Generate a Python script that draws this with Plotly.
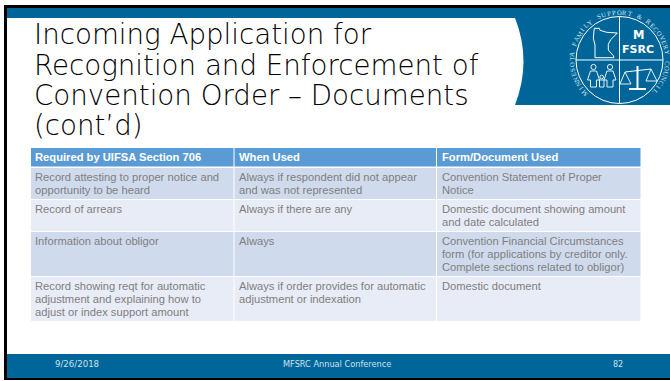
import math
import plotly.graph_objects as go

W, H = 670, 381
title_lines = ["Incoming Application for", "Recognition and Enforcement of",
               "Convention Order – Documents", "(cont’d)"]
headers = ["Required by UIFSA Section 706", "When Used", "Form/Document Used"]
col_required = ["Record attesting to proper notice and<br>opportunity to be heard",
                "Record of arrears",
                "Information about obligor",
                "Record showing reqt for automatic<br>adjustment and explaining how to<br>adjust or index support amount"]
col_when = ["Always if respondent did not appear<br>and was not represented",
            "Always if there are any",
            "Always",
            "Always if order provides for automatic<br>adjustment or indexation"]
col_form = ["Convention Statement of Proper<br>Notice",
            "Domestic document showing amount<br>and date calculated",
            "Convention Financial Circumstances<br>form (for applications by creditor only.<br>Complete sections related to obligor)",
            "Domestic document"]
footer_date = "9/26/2018"
footer_name = "MFSRC Annual Conference"
footer_page = "82"
seal_text = "MINNESOTA FAMILY SUPPORT & RECOVERY COUNCIL"

BLUE = "#006699"
X = lambda p: p / W
Y = lambda p: 1 - p / H
shapes, ann = [], []


def rect(x0, y0, x1, y1, c):
    shapes.append(dict(type="rect", xref="paper", yref="paper", x0=X(x0), x1=X(x1), y0=Y(y1), y1=Y(y0),
                       fillcolor=c, line_width=0, layer="below"))


def path(pts, close=False, fill=None, lw=1.0, color="white"):
    d = "M" + " L".join(f"{X(a):.5f},{Y(b):.5f}" for a, b in pts) + (" Z" if close else "")
    shapes.append(dict(type="path", xref="paper", yref="paper", path=d, fillcolor=fill,
                       line=dict(color=color, width=lw)))


def circle(cx, cy, r, lw=1.0, fill=None):
    shapes.append(dict(type="circle", xref="paper", yref="paper", x0=X(cx - r), x1=X(cx + r),
                       y0=Y(cy + r), y1=Y(cy - r), fillcolor=fill, line=dict(color="white", width=lw)))


def text(x, y, s, size, color, family, anchor="left", angle=0, bold=False, weight=None):
    f = dict(size=size, color=color, family=family)
    if weight:
        f["weight"] = weight
    ann.append(dict(xref="paper", yref="paper", x=X(x), y=Y(y), text=f"<b>{s}</b>" if bold else s,
                    showarrow=False, xanchor=anchor, yanchor="middle", textangle=angle, font=f,
                    borderpad=0, borderwidth=0))


# frame and bands
rect(4, 5, 670, 380, "black")
rect(7, 8, 670, 378, "white")
rect(7, 8, 670, 18, BLUE)
rect(515, 8, 670, 105, BLUE)
rect(7, 354, 670, 378, BLUE)
d = (f"M{X(505):.5f},{Y(18):.5f} L{X(515):.5f},{Y(18):.5f} "
     f"Q{X(532):.5f},{Y(61):.5f} {X(515):.5f},{Y(105):.5f} L{X(505):.5f},{Y(105):.5f} Z")
shapes.append(dict(type="path", xref="paper", yref="paper", path=d, fillcolor="white", line_width=0, layer="below"))

# title
for i, line in enumerate(title_lines):
    text(34, 35 + 30 * i, line, 27.7, "#000000", "DejaVu Sans", weight=200)

# footer
FC = "#cfe2ec"
text(55, 364, footer_date, 8.6, FC, "DejaVu Sans")
text(283, 364, footer_name, 8.2, FC, "DejaVu Sans")
text(613, 364, footer_page, 8, FC, "DejaVu Sans")

# seal
cx, cy = 619.5, 60
circle(cx, cy, 43.5)
path([(cx, cy - 43.5), (cx, cy + 43.5)])
path([(cx - 43.5, cy), (cx + 43.5, cy)])
path([(594.3, 28.3), (599.3, 28.3), (600, 30.3), (606.7, 32.3), (617.3, 33), (610.7, 39.7), (608.3, 44.3),
      (608.3, 50), (613.3, 55.7), (614, 57.7), (595, 57.7), (595, 45), (593.3, 38.3)], close=True)
for px in (593.5, 610):
    circle(px, 67, 2.6, 0.9)
    path([(px - 3, 71), (px + 3, 71), (px + 6, 80), (px + 3, 80), (px + 3, 87), (px - 3, 87), (px - 3, 80),
          (px - 6, 80)], close=True, lw=0.9)
circle(601.7, 77, 1.8, 0.9)
path([(599.5, 80), (604, 80), (604, 87), (599.5, 87)], close=True, lw=0.9)
path([(637.5, 66), (637.5, 88)], lw=2)
path([(629, 89), (646, 89)], lw=2)
path([(625, 72), (651, 69)], lw=1)
path([(625, 72), (620, 84), (631, 84)], close=True, lw=0.9)
path([(651, 69), (646, 81), (657, 81)], close=True, lw=0.9)
text(638, 35, "M", 11.5, "white", "DejaVu Sans", "center", bold=True)
text(638, 49, "FSRC", 11, "white", "DejaVu Sans", "center", bold=True)
n = len(seal_text)
for i, ch in enumerate(seal_text):
    a = -133 + 265 * i / (n - 1)
    r = math.radians(a)
    text(cx + 48 * math.sin(r), cy - 48 * math.cos(r), ch, 6.6, "#d8e8f0", "Liberation Serif", "center", angle=a)

# table
col_edges = [(31, 233.5), (234.5, 436), (437, 640.5)]
text_x = [35, 238.5, 441.7]
LH = 13
TXT = "#7f7f7f"
for (x0, x1), tx, h in zip(col_edges, text_x, headers):
    rect(x0, 148, x1, 166.5, "#5b9bd5")
    text(tx, 157, h, 11.2, "white", "Liberation Sans", bold=True)
y = 168
rows = list(zip(col_required, col_when, col_form))
for ri, row in enumerate(rows):
    nlines = max(c.count("<br>") + 1 for c in row)
    h = 6 + LH * nlines
    for (x0, x1), tx, cell in zip(col_edges, text_x, row):
        rect(x0, y, x1, y + h - 0.9, "#cfdaec" if ri % 2 == 0 else "#e8ecf6")
        for li, line in enumerate(cell.split("<br>")):
            text(tx, y + 9.2 + LH * li, line, 11.2, TXT, "Liberation Sans")
    y += h

fig = go.Figure()
fig.update_layout(width=W, height=H, margin=dict(l=0, r=0, t=0, b=0), paper_bgcolor="white",
                  plot_bgcolor="white", shapes=shapes, annotations=ann, showlegend=False,
                  xaxis=dict(visible=False), yaxis=dict(visible=False))
fig.write_html("out.html", config=dict(displayModeBar=False),
               post_script="document.body.style.margin='0';document.body.style.overflow='hidden';")
